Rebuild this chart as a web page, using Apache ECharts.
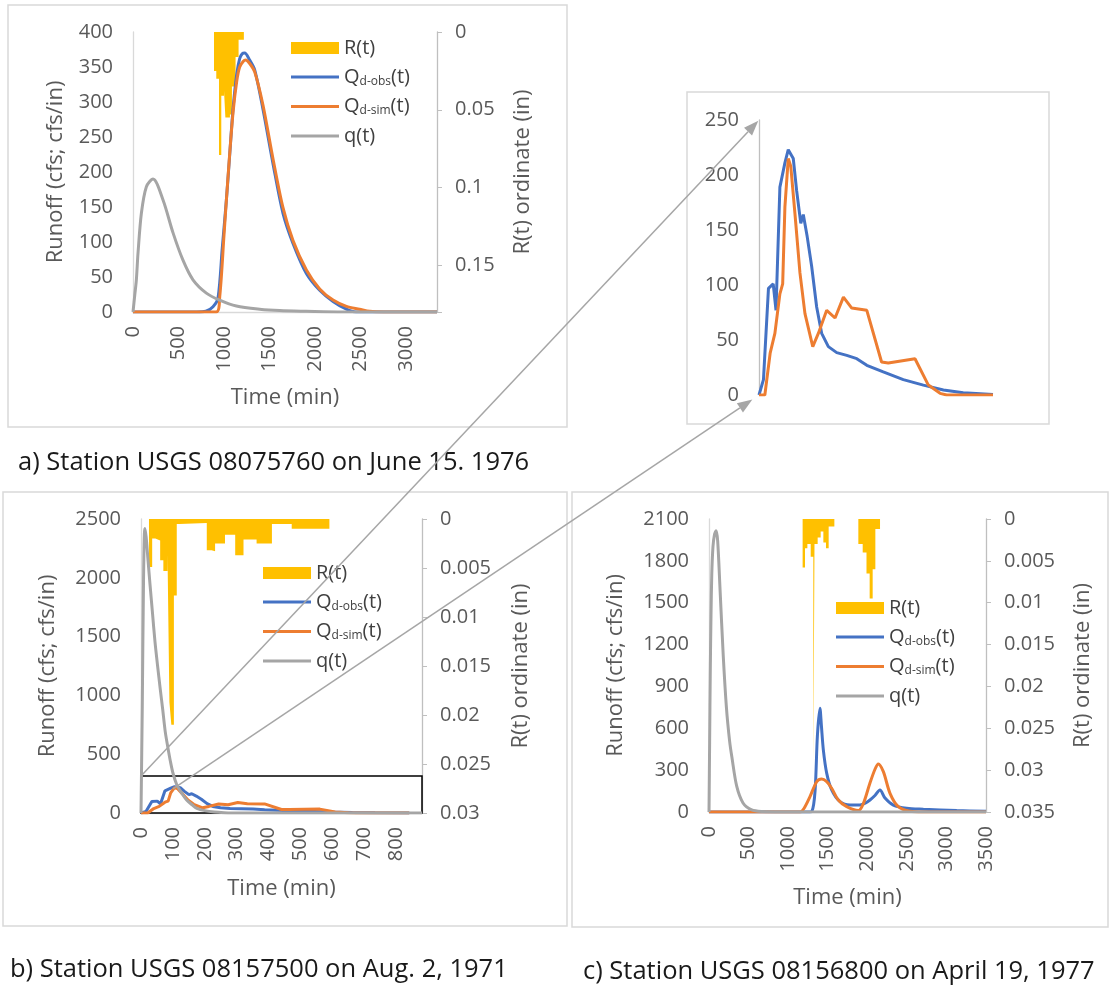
<!DOCTYPE html>
<html><head><meta charset="utf-8">
<script src="https://cdn.jsdelivr.net/npm/echarts@6/dist/echarts.min.js"></script>
<style>html,body{margin:0;padding:0;background:#fff}#c{width:1111px;height:993px}</style>
</head><body><div id="c"></div>
<script>
// ---------------- DATA ----------------
// Panel a) Station USGS 08075760 on June 15. 1976
const aQ_t   = [0, 20, 37, 55, 92, 147, 220, 330, 440, 549, 659, 806, 952, 1136, 1392, 1612, 1900, 2300, 3340];
const aQ_v   = [0, 25, 46, 84, 141, 179, 190, 160, 113, 74, 46, 27, 17, 8.6, 4, 2, 1, 0, 0];
const aObs_t = [0, 700, 800, 879, 934, 980, 1026, 1060, 1099, 1140, 1172, 1200, 1227, 1282, 1337, 1429, 1538, 1648, 1758, 1905, 2051, 2198, 2345, 2450, 3340];
const aObs_v = [0, 0, 1, 7.6, 20, 90, 160, 220, 290, 340, 362, 369, 370, 360, 346, 289, 212, 141, 98, 55, 31, 15, 4, 0, 0];
const aSim_t = [0, 916, 953, 1000, 1026, 1060, 1099, 1140, 1172, 1210, 1238, 1282, 1337, 1429, 1538, 1648, 1758, 1905, 2051, 2198, 2345, 2490, 2600, 2750, 3340];
const aSim_v = [0, 0, 22, 110, 160, 222, 285, 330, 350, 358, 360, 355, 343, 295, 219, 149, 102, 60, 33, 17, 8, 4, 1, 0, 0];
const aR_t   = [890, 915, 945, 970, 1000, 1015, 1065, 1087, 1127, 1160, 1218, 1273, 1328];
const aR_v   = [0.025, 0.03, 0.079, 0.041, 0.038, 0.055, 0.053, 0.035, 0.016, 0.005, 0, 0.0012, 0];

// Panel b) Station USGS 08157500 on Aug. 2, 1971 (also shown in the zoom panel)
const bQ_t   = [0, 4, 8, 12, 16, 22, 28, 36, 44, 52, 60, 68, 76, 84, 92, 100, 112, 125, 143, 160, 175, 200, 230, 260, 300, 880];
const bQ_v   = [0, 900, 2000, 2420, 2350, 2150, 1950, 1700, 1450, 1250, 1060, 880, 690, 560, 440, 340, 240, 180, 110, 70, 40, 20, 8, 3, 0, 0];
const bObs_t = [0, 16, 34, 51, 61, 75, 93, 105, 123, 135, 150, 159, 173, 189, 207, 225, 249, 279, 315, 351, 387, 446, 518, 590, 662, 733, 840];
const bObs_v = [0, 14, 97, 101, 77, 189, 211, 223, 215, 186, 156, 164, 144, 117, 80, 56, 44, 38.5, 36, 33, 27, 21, 14, 9, 4.5, 2, 0.5];
const bSim_t = [0, 21, 40, 57, 75, 85, 93, 105, 114, 129, 147, 165, 193, 213, 243, 273, 303, 333, 387, 440, 464, 560, 608, 650, 674, 840];
const bSim_v = [0, 0, 38, 56, 92, 101, 171, 215, 208, 165, 111, 74, 44, 56, 77, 70, 89, 79, 77, 30, 29, 33, 9, 1.5, 0, 0];
const bR_t   = [25, 35, 45, 60, 70, 83, 89, 95, 103, 112, 120, 206, 221, 232, 263, 295, 321, 362, 410, 472, 590];
const bR_v   = [0.0049, 0.002, 0.0022, 0.0042, 0.0053, 0.0036, 0.0187, 0.021, 0.0078, 0.0005, 0.0004, 0.0032, 0.0033, 0.0025, 0.0016, 0.0037, 0.0021, 0.0025, 0.0005, 0.001, 0];
const bBox   = [880, 315];   // zoomed window (time, runoff)
const bArrowFrom = [100, 205]; // start of the lower pointer line (time, runoff)

// Panel c) Station USGS 08156800 on April 19, 1977
const cQ_t   = [0, 8, 16, 25, 35, 50, 70, 90, 110, 140, 180, 220, 260, 290, 350, 430, 540, 680, 900, 3500];
const cQ_v   = [0, 500, 1000, 1400, 1700, 1900, 1990, 2015, 1940, 1590, 1120, 750, 510, 390, 185, 65, 15, 3, 0, 0];
const cObs_t = [0, 1250, 1300, 1340, 1370, 1402, 1420, 1445, 1487, 1550, 1655, 1782, 1908, 1980, 2034, 2100, 2160, 2224, 2329, 2498, 2709, 3130, 3500];
const cObs_v = [0, 0, 5, 150, 550, 743, 620, 444, 279, 158, 74, 50, 50, 65, 86, 120, 158, 100, 50, 27, 20, 10, 5];
const cSim_t = [0, 1150, 1200, 1276, 1361, 1424, 1487, 1550, 1634, 1740, 1887, 1950, 2034, 2100, 2139, 2203, 2287, 2392, 2540, 2700, 3500];
const cSim_v = [0, 0, 25, 110, 217, 236, 217, 170, 86, 38, 10, 60, 208, 310, 344, 289, 134, 38, 5, 0, 0];
const cR_t   = [1183, 1213, 1243, 1285, 1318, 1333, 1373, 1411, 1445, 1478, 1512, 1584, 1887, 1942, 1990, 2030, 2068, 2102, 2161];
const cR_v   = [0.0058, 0.0035, 0.003, 0.0045, 0.029, 0.003, 0.0022, 0.0015, 0.0028, 0.0035, 0.0009, 0, 0.003, 0.004, 0.0065, 0.0095, 0.006, 0.0012, 0];

// Axis ticks
const aX = {max: 3340, step: 500}, aY = {max: 400, step: 50}, aR = {max: 0.18, step: 0.05};
const zX = {max: 840}, zY = {max: 250, step: 50};
const bX = {max: 880, step: 100}, bY = {max: 2500, step: 500}, bRr = {max: 0.03, step: 0.005};
const cX = {max: 3500, step: 500}, cY = {max: 2100, step: 300}, cRr = {max: 0.035, step: 0.005};

const captions = ['a) Station USGS 08075760 on June 15. 1976', 'b) Station USGS 08157500 on Aug. 2, 1971', 'c) Station USGS 08156800 on April 19, 1977'];

// ---------------- CHART ----------------
const FONT = 'Open Sans';
const C = {R: '#FFC000', obs: '#4472C4', sim: '#ED7D31', q: '#A5A5A5'};
const GRID = [
  {left: 133, top: 32, width: 304, height: 280},
  {left: 759, top: 120, width: 234, height: 275},
  {left: 141, top: 519, width: 281, height: 294},
  {left: 709, top: 519, width: 277, height: 293}
];
const zip = (t, v) => t.map((x, i) => [x, v[i]]);
const onStep = step => v => { const k = v / step; return Math.abs(k - Math.round(k)) < 1e-6 ? String(+v.toFixed(4)) : ''; };
const lbl = {fontFamily: FONT, fontSize: 20, color: '#595959'};
const nameStyle = {fontFamily: FONT, fontSize: 22, color: '#595959'};
const axLine = {show: true, onZero: false, lineStyle: {color: '#D9D9D9', width: 1.3}};

function xAx(grid, s, gap) {
  return {type: 'value', gridIndex: grid, min: 0, max: s.max, interval: s.step,
    axisLine: axLine, axisTick: {show: false}, splitLine: {show: false},
    axisLabel: {rotate: 90, interval: 0, hideOverlap: false, margin: 14, formatter: onStep(s.step), fontFamily: FONT, fontSize: 20, color: '#595959'},
    name: 'Time (min)', nameLocation: 'middle', nameGap: gap, nameTextStyle: nameStyle};
}
function yLeft(grid, s, gap, name) {
  return {type: 'value', gridIndex: grid, position: 'left', min: 0, max: s.max, interval: s.step,
    axisLine: axLine, axisTick: {show: false}, splitLine: {show: false},
    axisLabel: Object.assign({margin: 20, formatter: v => String(v)}, lbl),
    name, nameLocation: 'middle', nameGap: gap, nameRotate: 90, nameTextStyle: nameStyle};
}
function yRight(grid, s, gap) {
  return {type: 'value', gridIndex: grid, position: 'right', inverse: true, min: 0, max: s.max, interval: s.step,
    axisLine: {show: true, onZero: false, lineStyle: {color: '#BFBFBF', width: 1.3}},
    axisTick: {show: true, inside: false, length: 5, lineStyle: {color: '#BFBFBF'}}, splitLine: {show: false},
    axisLabel: Object.assign({margin: 18, formatter: onStep(s.step)}, lbl),
    name: 'R(t) ordinate (in)', nameLocation: 'middle', nameGap: gap, nameRotate: 90, nameTextStyle: nameStyle};
}
function line(name, xi, yi, t, v, color, smooth, z) {
  return {type: 'line', name, xAxisIndex: xi, yAxisIndex: yi, data: zip(t, v), symbol: 'none', showSymbol: false, smooth,
    lineStyle: {color, width: 3}, itemStyle: {color}, z, silent: true};
}
function rain(xi, yi, t, v) {
  return {type: 'line', name: 'R(t)', step: 'end', xAxisIndex: xi, yAxisIndex: yi, data: zip(t, v), symbol: 'none',
    lineStyle: {width: 0, color: C.R}, itemStyle: {color: C.R}, areaStyle: {color: C.R, opacity: 1}, z: 1, silent: true};
}
const LINE_ICON = 'path://M0,0L48,0L48,0Z M0,4.5L48,4.5L48,7.5L0,7.5Z M0,12L48,12L48,12Z';
function legend(left, top) {
  return {left, top, orient: 'vertical', itemWidth: 48, itemHeight: 12, itemGap: 9, selectedMode: false,
    data: [{name: 'R(t)', icon: 'rect'}, {name: 'Qobs', icon: LINE_ICON}, {name: 'Qsim', icon: LINE_ICON}, {name: 'q(t)', icon: LINE_ICON}],
    formatter: n => n === 'Qobs' ? '{m|Q}{s|d-obs}{m|(t)}' : n === 'Qsim' ? '{m|Q}{s|d-sim}{m|(t)}' : '{m|' + n + '}',
    textStyle: {fontFamily: FONT, fontSize: 20, color: '#404040',
      rich: {m: {fontFamily: FONT, fontSize: 20, color: '#404040', lineHeight: 21},
             s: {fontFamily: FONT, fontSize: 12, color: '#404040', lineHeight: 12, verticalAlign: 'bottom'}}}};
}
const border = (x, y, w, h) => ({type: 'rect', shape: {x, y, width: w, height: h}, style: {fill: null, stroke: '#D9D9D9', lineWidth: 1.5}, silent: true, z: 0});
const capt = (x, y, text) => ({type: 'text', x, y, style: {text, fontFamily: FONT, fontSize: 25.5, fill: '#1a1a1a', textVerticalAlign: 'middle'}, silent: true});

// data -> pixel for the pointer arrows (same linear mapping as the axes, min = 0)
const toPx = (g, xs, ys, p) => [GRID[g].left + p[0] / xs.max * GRID[g].width, GRID[g].top + GRID[g].height - p[1] / ys.max * GRID[g].height];
function arrow(p0, p1, back) {
  const dx = p1[0] - p0[0], dy = p1[1] - p0[1], L = Math.hypot(dx, dy), ux = dx / L, uy = dy / L;
  const tip = [p1[0] - ux * back, p1[1] - uy * back];
  const hl = 15, hw = 5.5, b = [tip[0] - ux * hl, tip[1] - uy * hl];
  return [
    {type: 'line', shape: {x1: p0[0], y1: p0[1], x2: b[0], y2: b[1]}, style: {stroke: '#A6A6A6', lineWidth: 1.5}, silent: true, z: 20},
    {type: 'polygon', shape: {points: [tip, [b[0] - uy * hw, b[1] + ux * hw], [b[0] + uy * hw, b[1] - ux * hw]]}, style: {fill: '#A6A6A6'}, silent: true, z: 20}
  ];
}
const arrows = arrow(toPx(2, bX, bY, [0, bBox[1]]), toPx(1, zX, zY, [0, zY.max]), 1)
  .concat(arrow(toPx(2, bX, bY, bArrowFrom), toPx(1, zX, zY, [0, 0]), 8));

const chart = echarts.init(document.getElementById('c'));
chart.setOption({
  animation: false,
  backgroundColor: '#fff',
  grid: GRID,
  xAxis: [
    xAx(0, aX, 75),
    {type: 'value', gridIndex: 1, min: 0, max: zX.max, axisLine: {show: false}, axisTick: {show: false}, axisLabel: {show: false}, splitLine: {show: false}},
    xAx(2, bX, 65),
    xAx(3, cX, 75)
  ],
  yAxis: [
    yLeft(0, aY, 66, 'Runoff (cfs; cfs/in)'), yRight(0, aR, 75),
    Object.assign(yLeft(1, zY, 0, ''), {axisLine: {show: true, onZero: false, lineStyle: {color: '#BFBFBF', width: 1.3}}}),
    yLeft(2, bY, 82, 'Runoff (cfs; cfs/in)'), yRight(2, bRr, 88),
    yLeft(3, cY, 82, 'Runoff (cfs; cfs/in)'), yRight(3, cRr, 86)
  ],
  legend: [legend(286, 33), legend(258, 558), legend(831, 593)],
  series: [
    rain(0, 1, aR_t, aR_v),
    line('Qobs', 0, 0, aObs_t, aObs_v, C.obs, 0.3, 2),
    line('Qsim', 0, 0, aSim_t, aSim_v, C.sim, 0.3, 3),
    line('q(t)', 0, 0, aQ_t, aQ_v, C.q, 0.3, 4),

    line('Qobs', 1, 2, bObs_t, bObs_v, C.obs, false, 2),
    line('Qsim', 1, 2, bSim_t, bSim_v, C.sim, false, 3),

    rain(2, 4, bR_t, bR_v),
    Object.assign(line('Qobs', 2, 3, bObs_t, bObs_v, C.obs, false, 2), {
      markArea: {silent: true, itemStyle: {color: 'rgba(0,0,0,0)', borderColor: '#000', borderWidth: 1.5},
        data: [[{coord: [0, 0]}, {coord: bBox}]]}}),
    line('Qsim', 2, 3, bSim_t, bSim_v, C.sim, false, 3),
    line('q(t)', 2, 3, bQ_t, bQ_v, C.q, 0.3, 4),

    rain(3, 6, cR_t, cR_v),
    line('Qobs', 3, 5, cObs_t, cObs_v, C.obs, 0.3, 2),
    line('Qsim', 3, 5, cSim_t, cSim_v, C.sim, 0.3, 3),
    line('q(t)', 3, 5, cQ_t, cQ_v, C.q, 0.3, 4)
  ],
  graphic: [
    border(8, 5, 559, 422),
    border(687, 92, 362, 332),
    border(3, 492, 564, 434),
    border(572, 492, 536, 435),
    capt(18, 463, captions[0]),
    capt(10, 970, captions[1]),
    capt(583, 972, captions[2])
  ].concat(arrows)
});
</script></body></html>
